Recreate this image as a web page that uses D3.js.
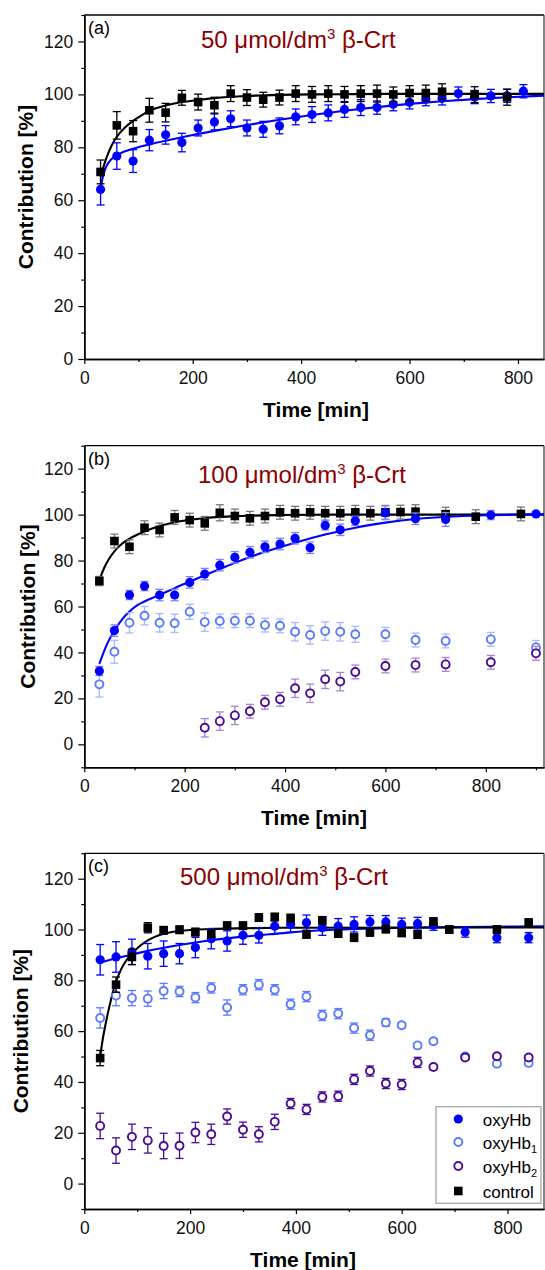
<!DOCTYPE html>
<html><head><meta charset="utf-8">
<script src="https://cdn.jsdelivr.net/npm/d3@7"></script>
<style>body{margin:0;background:#fff} svg{display:block} text{font-family:"Liberation Sans",Arial,sans-serif}</style>
</head><body>
<svg id="chart" width="545" height="1270"></svg>
<script>
// ---------- Panel (a): 50 µmol/dm3 β-Crt ----------
const aControlT = [30,60,90,120,150,180,210,240,270,300,330,360,390,420,450,480,510,540,570,600,630,660,720,780];
const aControlV = [70.7,88.3,86.1,94.0,93.1,98.7,97.1,95.9,100.3,98.8,98.0,98.8,100.3,100.0,100.3,100.0,100.3,100.3,100.0,100.5,100.5,101.0,99.9,98.9];
const aControlE = [4.5,5.2,4.0,4.5,3.5,2.8,3.0,3.0,3.0,3.0,2.8,2.8,3.0,3.0,3.0,3.0,3.0,3.2,2.8,2.8,3.0,3.0,3.0,3.0];
const aOxyT = [30,60,90,120,150,180,210,240,270,300,330,360,390,420,450,480,510,540,570,600,630,660,690,720,750,780,810];
const aOxyV = [64.1,76.7,74.8,82.7,84.7,81.8,87.3,89.6,90.8,87.3,86.8,88.1,91.5,92.4,93.0,94.3,95.0,95.0,96.3,97.0,98.2,98.5,100.3,99.0,99.4,99.5,101.2];
const aOxyE = [5.9,5.0,4.3,4.0,3.5,3.5,3.0,3.0,3.0,3.0,3.0,3.0,3.0,3.0,3.0,3.0,3.0,2.5,2.5,2.5,2.5,2.5,2.5,2.5,2.5,2.5,2.5];
const aFitControlT = [30,40,50,60,75,90,105,120,150,180,210,240,300,360,420,500,600,700,848];
const aFitControlV = [68.8,75.5,80.5,84.0,87.5,90.0,92.0,93.8,95.8,97.1,97.9,98.6,99.4,99.8,100.0,100.1,100.2,100.2,100.2];
const aFitOxyT = [30,35,40,50,60,75,90,120,150,180,240,300,360,420,480,540,600,660,720,780,848];
const aFitOxyV = [64.4,69.5,72.5,75.5,77.0,78.5,79.5,81.1,82.5,83.8,86.2,88.4,90.4,92.2,93.8,95.2,96.4,97.4,98.2,98.9,99.5];

// ---------- Panel (b): 100 µmol/dm3 β-Crt ----------
const bControlT = [30,60,90,120,150,180,210,240,270,300,330,360,390,420,450,480,510,540,570,600,630,660,720,780,870];
const bControlV = [71.1,88.5,86.0,94.3,93.3,98.8,97.6,96.2,100.8,99.4,98.4,99.4,101.0,100.6,101.0,100.6,100.6,101.0,100.6,101.0,101.1,101.3,100.2,99.1,100.3];
const bControlE = [2.0,3.0,3.0,3.0,3.0,3.0,3.0,3.0,3.5,3.0,3.0,3.0,3.0,3.0,3.0,3.0,3.0,3.0,3.0,3.0,3.0,3.0,3.0,3.0,3.0];
const bOxyT = [30,60,90,120,150,180,210,240,270,300,330,360,390,420,450,480,510,540,600,660,720,810,900];
const bOxyV = [31.9,49.5,65.0,68.9,65.0,65.0,70.5,74.1,78.0,81.4,83.6,86.0,87.2,89.7,85.6,95.3,93.4,97.3,100.8,98.2,97.9,99.8,100.3];
const bOxyE = [2.0,2.5,2.0,2.0,2.5,2.5,2.5,2.5,2.5,2.5,2.5,2.5,2.5,2.5,2.5,2.0,2.5,2.0,3.0,2.5,3.0,2.0,1.0];
const bOxy1T = [30,60,90,120,150,180,210,240,270,300,330,360,390,420,450,480,510,540,600,660,720,810,900];
const bOxy1V = [26.1,40.3,52.9,56.0,52.9,52.7,57.7,53.2,53.7,53.8,53.8,51.9,51.6,49.0,47.6,49.3,49.0,47.9,47.9,45.4,45.0,45.7,42.2];
const bOxy1E = [5.5,5.0,4.4,4.0,4.0,4.0,3.3,4.0,3.0,3.0,3.0,3.0,3.0,4.0,4.0,4.0,4.0,3.5,3.0,3.0,3.0,3.0,3.0];
const bOxy2T = [240,270,300,330,360,390,420,450,480,510,540,600,660,720,810,900];
const bOxy2V = [7.2,10.1,12.6,14.4,18.3,19.6,24.4,22.2,28.3,27.3,31.5,34.1,34.5,34.8,35.7,39.6];
const bOxy2E = [4,4,4,3,3,3,4,4,4,4,3,3,3,3,3,3];
const bFitControlT = [30,40,50,60,75,90,120,150,180,240,300,390,500,916];
const bFitControlV = [71.5,77.0,81.0,84.0,87.3,89.5,92.6,95.0,96.7,98.5,99.3,99.8,100.0,100.0];
const bFitOxyT = [30,45,60,75,90,105,120,150,180,210,240,270,300,360,420,480,540,600,660,720,800,916];
const bFitOxyV = [35.0,43.5,49.5,54.3,57.8,60.5,62.2,65.0,68.0,70.8,73.6,76.3,79.0,83.8,87.8,91.3,94.3,96.5,98.1,99.0,99.7,100.2];

// ---------- Panel (c): 500 µmol/dm3 β-Crt ----------
const cControlT = [30,60,90,120,150,180,210,240,270,300,330,360,390,420,450,480,510,540,570,600,630,660,690,780,840];
const cControlV = [49.4,78.3,89.2,100.7,99.7,99.9,99.0,98.4,101.5,101.5,104.7,104.9,104.5,98.1,103.6,98.4,96.8,98.9,100.2,98.7,98.0,103.1,100.0,100.0,102.7];
const cControlE = [3.0,3.0,3.0,2.0,1.5,1.5,1.5,1.5,1.5,1.5,1.5,1.5,1.5,1.5,1.5,1.5,1.5,1.5,1.5,1.5,1.5,1.5,1.5,1.5,1.5];
const cOxyT = [30,60,90,120,150,180,210,240,270,300,330,360,390,420,450,480,510,540,570,600,630,660,720,780,840];
const cOxyV = [88.1,89.2,91.2,89.5,90.5,90.5,92.9,96.4,95.5,97.7,97.7,101.3,102.0,102.7,100.7,101.3,102.0,103.0,103.0,102.0,102.3,101.7,99.0,96.8,96.8];
const cOxyE = [6,6,5,5,5,4,4,4,4,3.5,3,3,3,3,3,3,3,2.5,2.5,2.5,2.5,2,2,2,2];
const cOxy1T = [30,60,90,120,150,180,210,240,270,300,330,360,390,420,450,480,510,540,570,600,630,660,720,780,840];
const cOxy1V = [65.2,74.0,73.0,72.8,75.8,75.6,73.2,77.0,69.3,76.3,78.3,76.3,70.6,73.6,66.2,66.9,61.2,58.4,63.4,62.3,54.4,56.0,50.0,47.2,47.5];
const cOxy1E = [4,4,3,3,3,2,2,2,3,2,2,2,2,2,2,2,2,2,1.5,1,1,1,1,1,1];
const cOxy2T = [30,60,90,120,150,180,210,240,270,300,330,360,390,420,450,480,510,540,570,600,630,660,720,780,840];
const cOxy2V = [22.7,13.0,18.4,17.0,14.8,14.9,20.1,19.4,26.4,21.2,19.4,24.3,31.5,29.2,34.1,34.4,41.0,44.3,39.4,39.0,47.7,45.9,49.6,50.1,49.6];
const cOxy2E = [5,5,5,5,5,5,4,4,3,3,3,3,2,2,2,2,2,2,2,2,2,1,1,1,1];
const cFitControlT = [30,35,40,45,50,60,70,80,90,105,120,150,180,240,300,400,869];
const cFitControlV = [50.0,57.0,62.5,67.5,72.0,79.5,84.5,88.0,90.5,93.5,95.7,98.3,99.4,100.2,100.5,100.7,100.8];
const cFitOxyT = [30,60,90,120,150,180,210,240,300,360,420,480,600,720,869];
const cFitOxyV = [87.0,88.7,90.2,91.6,92.8,93.9,94.9,95.8,97.2,98.3,99.3,100.0,100.7,101.0,101.3];

const legendLabels = ["oxyHb","oxyHb","oxyHb","control"];
const legendSubs = ["","1","2",""];
const yMajorTicks = [0,20,40,60,80,100,120];

const COL = {oxy:"#0000ff", oxy1:"#5a7aff", oxy2:"#4a0c94", control:"#000000", title:"#8b0000"};
const zip = (T,V,E) => T.map((t,i)=>({t:t, v:V[i], e:E?E[i]:0}));

const svg = d3.select("#chart");
const L = 84.3, R = 544;

const panels = [
  {label:"(a)", conc:"50", top:15, bottom:359, xDomain:[0,848], yDomain:[0,130],
   titleX:201, titleY:48, ytX:33, xtY:417, xtX:316, barOp:1,
   fits:[{T:aFitOxyT,V:aFitOxyV,c:COL.oxy},{T:aFitControlT,V:aFitControlV,c:COL.control}],
   series:[{d:zip(aOxyT,aOxyV,aOxyE),type:"fill",c:COL.oxy,bc:COL.oxy},
           {d:zip(aControlT,aControlV,aControlE),type:"square",c:COL.control,bc:COL.control}]},
  {label:"(b)", conc:"100", top:445.7, bottom:767.3, xDomain:[0,916], yDomain:[-10,130],
   titleX:198, titleY:482.5, ytX:35, xtY:825, xtX:314, barOp:1,
   fits:[{T:bFitControlT,V:bFitControlV,c:COL.control},{T:bFitOxyT,V:bFitOxyV,c:COL.oxy}],
   series:[{d:zip(bOxy1T,bOxy1V,bOxy1E),type:"open",c:COL.oxy1,bc:"#a9b8ff"},
           {d:zip(bOxy2T,bOxy2V,bOxy2E),type:"open",c:COL.oxy2,bc:"#a585cf"},
           {d:zip(bControlT,bControlV,bControlE),type:"square",c:COL.control,bc:"#777777"},
           {d:zip(bOxyT,bOxyV,bOxyE),type:"fill",c:COL.oxy,bc:"#8080ff"}]},
  {label:"(c)", conc:"500", top:853.3, bottom:1209, xDomain:[0,869], yDomain:[-10,130],
   titleX:180, titleY:885, ytX:28, xtY:1267, xtX:303, barOp:1,
   fits:[{T:cFitOxyT,V:cFitOxyV,c:COL.oxy},{T:cFitControlT,V:cFitControlV,c:COL.control}],
   series:[{d:zip(cOxy1T,cOxy1V,cOxy1E),type:"open",c:COL.oxy1,bc:COL.oxy1},
           {d:zip(cOxy2T,cOxy2V,cOxy2E),type:"open",c:COL.oxy2,bc:COL.oxy2},
           {d:zip(cOxyT,cOxyV,cOxyE),type:"fill",c:COL.oxy,bc:COL.oxy},
           {d:zip(cControlT,cControlV,cControlE),type:"square",c:COL.control,bc:COL.control}],
   legend:true}
];

function drawMarker(g, type, cx, cy, c) {
  if (type === "fill") g.append("circle").attr("cx",cx).attr("cy",cy).attr("r",4.6).attr("fill",c);
  else if (type === "open") g.append("circle").attr("cx",cx).attr("cy",cy).attr("r",4.0).attr("fill","#fff").attr("stroke",c).attr("stroke-width",1.9);
  else g.append("rect").attr("x",cx-4.3).attr("y",cy-4.3).attr("width",8.6).attr("height",8.6).attr("fill",c);
}

panels.forEach(p => {
  const g = svg.append("g");
  const x = d3.scaleLinear().domain(p.xDomain).range([L, R]);
  const y = d3.scaleLinear().domain(p.yDomain).range([p.bottom, p.top]);

  // frame top/right
  g.append("line").attr("x1",L).attr("x2",R).attr("y1",p.top).attr("y2",p.top).attr("stroke","#000").attr("stroke-width",1.3);
  g.append("line").attr("x1",R).attr("x2",R).attr("y1",p.top).attr("y2",p.bottom).attr("stroke","#333").attr("stroke-width",1.2);

  // axes
  const yMinor = d3.range(p.yDomain[0], 131, 10).filter(v => v % 20 !== 0);
  const xMax = p.xDomain[1];
  const xMajor = d3.range(0, xMax + 1, 200);
  const xMinor = d3.range(100, xMax + 1, 200);
  const styleAxis = a => { a.select(".domain").attr("stroke","#000").attr("stroke-width",1.5);
    a.selectAll(".tick line").attr("stroke","#000").attr("stroke-width",1.2);
    a.selectAll("text").attr("font-size","17.5px").attr("fill","#111").attr("font-family","Liberation Sans, Arial, sans-serif"); };
  g.append("g").attr("transform",`translate(${L},0)`)
    .call(d3.axisLeft(y).tickValues(yMinor).tickSize(3).tickSizeOuter(0).tickFormat("")).call(styleAxis);
  g.append("g").attr("transform",`translate(${L},0)`)
    .call(d3.axisLeft(y).tickValues(yMajorTicks).tickSize(6).tickPadding(5).tickSizeOuter(0)).call(styleAxis);
  g.append("g").attr("transform",`translate(0,${p.bottom})`)
    .call(d3.axisBottom(x).tickValues(xMinor).tickSize(3).tickSizeOuter(0).tickFormat("")).call(styleAxis);
  g.append("g").attr("transform",`translate(0,${p.bottom})`)
    .call(d3.axisBottom(x).tickValues(xMajor).tickSize(5).tickPadding(7.5).tickSizeOuter(0)).call(styleAxis);

  // axis titles
  g.append("text").attr("transform",`translate(${p.ytX},${(p.top+p.bottom)/2}) rotate(-90)`)
    .attr("text-anchor","middle").attr("font-size","21px").attr("font-weight","bold").attr("fill","#000").text("Contribution [%]");
  g.append("text").attr("x",p.xtX).attr("y",p.xtY).attr("text-anchor","middle")
    .attr("font-size","21px").attr("font-weight","bold").attr("fill","#000").text("Time [min]");

  // panel label & title
  g.append("text").attr("x",88).attr("y",p.top+19).attr("font-size","18px").attr("fill","#000").text(p.label);
  const t = g.append("text").attr("x",p.titleX).attr("y",p.titleY).attr("font-size","24px").attr("fill",COL.title);
  t.append("tspan").text(p.conc + " \u03BCmol/dm");
  t.append("tspan").attr("font-size","15px").attr("dy",-9).text("3");
  t.append("tspan").attr("dy",9).text(" \u03B2-Crt");

  // fit lines
  const line = d3.line().x(d => x(d[0])).y(d => y(d[1])).curve(d3.curveMonotoneX);
  p.fits.forEach(f => {
    g.append("path").datum(f.T.map((tt,i)=>[tt,f.V[i]])).attr("d",line)
      .attr("fill","none").attr("stroke",f.c).attr("stroke-width",2.1);
  });

  // series
  p.series.forEach(s => {
    const sg = g.append("g");
    s.d.forEach(d => {
      const cx = x(d.t), y1 = y(d.v - d.e), y2 = y(d.v + d.e);
      sg.append("line").attr("x1",cx).attr("x2",cx).attr("y1",y1).attr("y2",y2).attr("stroke",s.bc).attr("stroke-width",1.3);
      sg.append("line").attr("x1",cx-4).attr("x2",cx+4).attr("y1",y1).attr("y2",y1).attr("stroke",s.bc).attr("stroke-width",1.3);
      sg.append("line").attr("x1",cx-4).attr("x2",cx+4).attr("y1",y2).attr("y2",y2).attr("stroke",s.bc).attr("stroke-width",1.3);
    });
    s.d.forEach(d => drawMarker(sg, s.type, x(d.t), y(d.v), s.c));
  });

  // legend
  if (p.legend) {
    const lg = g.append("g");
    lg.append("rect").attr("x",436).attr("y",1106.7).attr("width",105).attr("height",96.6)
      .attr("fill","#fff").attr("stroke","#a0a0a0").attr("stroke-width",1.2);
    const rows = [1119, 1142, 1166, 1191];
    const types = ["fill","open","open","square"];
    const cols = [COL.oxy, COL.oxy1, COL.oxy2, COL.control];
    legendLabels.forEach((lab,i) => {
      drawMarker(lg, types[i], 458.3, rows[i], cols[i]);
      const tx = lg.append("text").attr("x",482.7).attr("y",rows[i]+6.5).attr("font-size","17px").attr("fill","#000");
      tx.append("tspan").text(lab);
      if (legendSubs[i]) tx.append("tspan").attr("font-size","11px").attr("dy",4).text(legendSubs[i]);
    });
  }
});
</script>
</body></html>
